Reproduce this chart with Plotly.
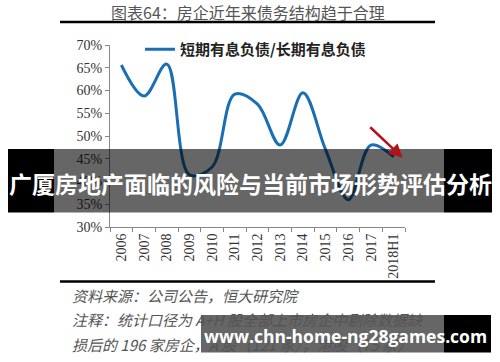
import plotly.graph_objects as go

categories = ["2006", "2007", "2008", "2009", "2010", "2011", "2012",
              "2013", "2014", "2015", "2016", "2017", "2018H1"]
ratio = [65.6, 58.8, 65.8, 41.5, 43.2, 59.2, 57.0, 48.0, 59.5, 47.0, 36.0, 48.0, 45.4]
series_name = "短期有息负债/长期有息负债"
y_ticks = [30, 35, 40, 45, 50, 55, 60, 65, 70]
y_tick_labels = ["30%", "35%", "40%", "45%", "50%", "55%", "60%", "65%", "70%"]

title_text = "图表64：房企近年来债务结构趋于合理"
overlay_text = "广厦房地产面临的风险与当前市场形势评估分析"
watermark_text = "www.chn-home-ng28games.com"
source_lines = ["资料来源：公司公告，恒大研究院",
                "注释：统计口径为 A+H 股全部上市房企中剔除数据缺",
                "损后的 196 家房企，A 股（121 家），港股（75 家）"]

W, H = 500, 362
L, R, T, B = 110, 405, 45, 227


def px(x):
    return (x - L) / (R - L)


def py(y):
    return (B - y) / (B - T)


fig = go.Figure()
fig.add_trace(go.Scatter(
    x=categories, y=ratio, mode="lines", name=series_name,
    line=dict(color="#1A6FB4", width=3, shape="spline", smoothing=1.0),
))

serif = "Liberation Serif, Times New Roman, serif"
cjk = "Noto Sans CJK SC, sans-serif"

fig.update_layout(
    width=W, height=H,
    margin=dict(l=L, r=W - R, t=T, b=H - B, pad=0),
    paper_bgcolor="white", plot_bgcolor="white",
    showlegend=True,
    legend=dict(x=px(140), y=py(33), xanchor="left", yanchor="top",
                orientation="h", bgcolor="rgba(0,0,0,0)",
                font=dict(family=cjk, size=15, color="#222222", weight="bold"),
                itemwidth=30, tracegroupgap=0),
    xaxis=dict(type="category", range=[-0.5, 12.5], showline=True,
               linecolor="#888888", linewidth=1, ticks="outside",
               tickson="boundaries", ticklen=4, tickcolor="#888888",
               tickangle=-90, showgrid=False, zeroline=False,
               tickfont=dict(family=serif, size=14, color="#333333")),
    yaxis=dict(range=[30, 70], tickvals=y_ticks, ticktext=y_tick_labels,
               showline=True, linecolor="#888888", linewidth=1,
               ticks="outside", ticklen=4, tickcolor="#888888",
               showgrid=False, zeroline=False,
               tickfont=dict(family=serif, size=14, color="#333333")),
)

shapes = []
# title underline and bottom rule
shapes.append(dict(type="line", xref="paper", yref="paper",
                   x0=px(60), x1=px(435), y0=py(22), y1=py(22),
                   line=dict(color="black", width=2.5)))
shapes.append(dict(type="line", xref="paper", yref="paper",
                   x0=px(60), x1=px(435), y0=py(281.5), y1=py(281.5),
                   line=dict(color="black", width=2.5)))
# overlay band 1
shapes.append(dict(type="rect", xref="paper", yref="paper", layer="above",
                   x0=px(8), x1=px(54), y0=py(212.5), y1=py(149),
                   fillcolor="black", line=dict(width=0)))
shapes.append(dict(type="rect", xref="paper", yref="paper", layer="above",
                   x0=px(54), x1=px(444), y0=py(212.5), y1=py(149),
                   fillcolor="rgba(0,0,0,0.6)", line=dict(width=0)))
shapes.append(dict(type="rect", xref="paper", yref="paper", layer="above",
                   x0=px(444), x1=px(492), y0=py(212.5), y1=py(149),
                   fillcolor="black", line=dict(width=0)))
# watermark band 2
shapes.append(dict(type="rect", xref="paper", yref="paper", layer="above",
                   x0=px(201), x1=px(444), y0=py(352.5), y1=py(315),
                   fillcolor="rgba(0,0,0,0.6)", line=dict(width=0)))
shapes.append(dict(type="rect", xref="paper", yref="paper", layer="above",
                   x0=px(444), x1=px(491), y0=py(352.5), y1=py(315),
                   fillcolor="black", line=dict(width=0)))
fig.update_layout(shapes=shapes)

ann = []
ann.append(dict(text=title_text, xref="paper", yref="paper",
                x=px(248), y=py(11.5), xanchor="center", yanchor="middle",
                showarrow=False,
                font=dict(family=cjk, size=16, color="#555555")))
for i, line in enumerate(source_lines):
    ann.append(dict(text=line, xref="paper", yref="paper",
                    x=px(70), y=py(295 + 24.5 * i), xanchor="left", yanchor="middle",
                    showarrow=False,
                    font=dict(family=cjk, size=15, color="#555555", style="italic")))
# red arrow
ann.append(dict(x=12.4, y=45.2, xref="x", yref="y", text="", showarrow=True,
                ax=-34, ay=-32, arrowhead=2, arrowsize=1.1, arrowwidth=2.5,
                arrowcolor="#B0141A"))
ann.append(dict(text="<b>" + overlay_text + "</b>", xref="paper", yref="paper",
                x=px(250), y=py(183), xanchor="center", yanchor="middle",
                showarrow=False,
                font=dict(family=cjk, size=23, color="white")))
ann.append(dict(text="<b>" + watermark_text + "</b>", xref="paper", yref="paper",
                x=px(345), y=py(336), xanchor="center", yanchor="middle",
                showarrow=False,
                font=dict(family="Open Sans, sans-serif", size=17.5, color="white")))
fig.update_layout(annotations=ann)

fig.write_html("out.html", config={"displayModeBar": False},
               post_script="document.body.style.margin='0';document.body.style.padding='0';")
